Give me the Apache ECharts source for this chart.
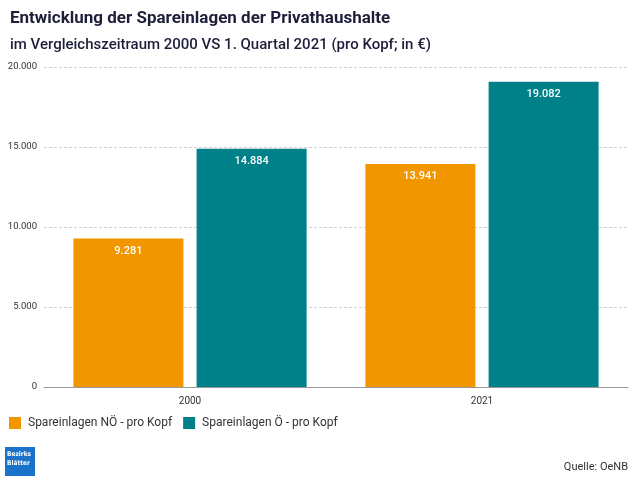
<!DOCTYPE html>
<html lang="de">
	<head>
		<meta charset="UTF-8" />
		<title>Spareinlagen</title>
		<script src="https://cdn.jsdelivr.net/npm/echarts@6/dist/echarts.min.js"></script>
		<style>
			body { margin: 0; background: #fff; }
		</style>
	</head>
	<body>
		<div id="main" style="width: 640px; height: 480px"></div>
		<script type="text/javascript">
			const years = ["2000", "2021"];
			const noe = [9281, 13941];
			const oe = [14884, 19082];
			const yTicks = [0, 5000, 10000, 15000, 20000];

			const fmt = (v) => v.toLocaleString("de-DE");
			const barLabel = {
				show: true,
				position: "insideTop",
				distance: 7,
				color: "#fff",
				fontSize: 11,
				fontWeight: 500,
				fontFamily: "Roboto",
				formatter: (p) => fmt(p.value),
			};

			let myChart = echarts.init(document.getElementById("main"));
			myChart.setOption({
				animation: false,
				textStyle: { fontFamily: "Roboto" },
				title: [
					{
						text: "Entwicklung der Spareinlagen der Privathaushalte",
						left: 10,
						top: 10,
						padding: 0,
						textStyle: { fontSize: 17, fontWeight: "bold", color: "#1e1e3a", fontFamily: "Roboto" },
					},
					{
						text: "im Vergleichszeitraum 2000 VS 1. Quartal 2021 (pro Kopf; in €)",
						left: 10,
						top: 38,
						padding: 0,
						textStyle: { fontSize: 15, fontWeight: 500, color: "#1e1e3a", fontFamily: "Roboto" },
					},
					{
						text: "Quelle: OeNB",
						right: 12,
						top: 462,
						padding: 0,
						textStyle: { fontSize: 11, fontWeight: "normal", color: "#333", fontFamily: "Roboto" },
					},
				],
				legend: {
					left: 9,
					top: 417,
					padding: 0,
					itemWidth: 12,
					itemHeight: 12,
					itemGap: 11,
					icon: "rect",
					textStyle: { fontSize: 12, color: "#333", padding: [0, 0, 0, 2] },
				},
				grid: { left: 44, right: 12, top: 67, bottom: 93, containLabel: false },
				xAxis: {
					type: "category",
					data: years,
					axisLine: { lineStyle: { color: "#999" } },
					axisTick: { show: false },
					axisLabel: { color: "#333", fontSize: 10, margin: 9 },
				},
				yAxis: {
					type: "value",
					min: yTicks[0],
					max: yTicks[yTicks.length - 1],
					interval: 5000,
					axisLabel: { color: "#333", fontSize: 9.5, margin: 7, formatter: (v) => fmt(v) },
					splitLine: { lineStyle: { color: "#d0d0d0", type: [3, 2] } },
				},
				series: [
					{
						name: "Spareinlagen NÖ - pro Kopf",
						type: "bar",
						data: noe,
						barWidth: 110,
						barGap: "12%",
						itemStyle: { color: "#f29600" },
						label: barLabel,
					},
					{
						name: "Spareinlagen Ö - pro Kopf",
						type: "bar",
						data: oe,
						barWidth: 110,
						itemStyle: { color: "#00818a" },
						label: barLabel,
					},
				],
				graphic: [
					{
						type: "rect",
						left: 5,
						top: 447,
						shape: { width: 30, height: 29 },
						style: { fill: "#1a73c8" },
					},
					{
						type: "text",
						left: 7,
						top: 450,
						style: {
							text: "Bezirks\nBlätter",
							fill: "#fff",
							font: "bold 6.5px 'DejaVu Sans Condensed', sans-serif",
							lineHeight: 9,
						},
					},
				],
			});
		</script>
	</body>
</html>
